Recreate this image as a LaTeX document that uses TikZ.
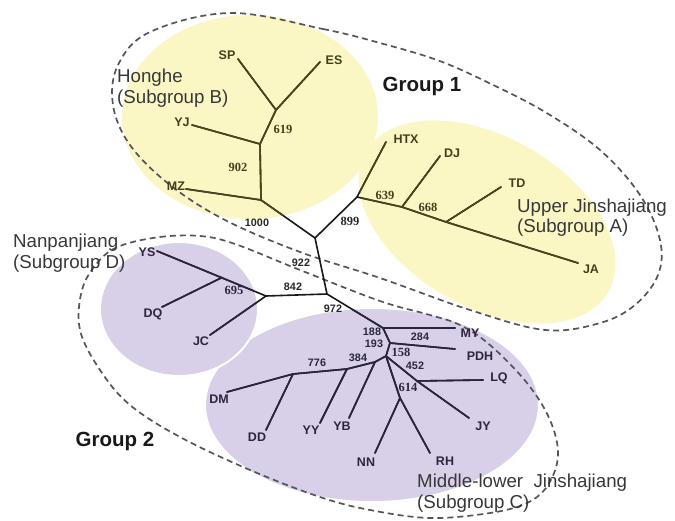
\documentclass[tikz,border=0pt]{standalone}
\usepackage{fontspec}
\setmainfont{Liberation Sans}
\newfontfamily\numserif{Liberation Serif}
\definecolor{ylw}{RGB}{251,247,196}
\definecolor{prp}{RGB}{216,207,232}
\definecolor{lineclr}{RGB}{25,25,25}
\definecolor{olivelc}{RGB}{72,70,28}
\definecolor{indigolc}{RGB}{42,36,62}
\definecolor{txtclr}{RGB}{40,40,40}
\definecolor{olivetx}{RGB}{66,64,30}
\definecolor{indigotx}{RGB}{44,38,66}
\definecolor{dashclr}{RGB}{85,85,92}
\newcommand\drawtree[1]{%
\draw[branch,#1] (c0) -- (b0) -- (b1) -- (b2) -- (eSP);
\draw[branch,#1] (b0) -- (eMZ);
\draw[branch,#1] (b1) -- (eYJ);
\draw[branch,#1] (b2) -- (eES);
\draw[branch,#1] (c0) -- (a0) -- (a1) -- (a2) -- (eJA);
\draw[branch,#1] (a0) -- (eHTX);
\draw[branch,#1] (a1) -- (eDJ);
\draw[branch,#1] (a2) -- (eTD);
\draw[branch,#1] (c0) -- (m0) -- (d0) -- (eYS);
\draw[branch,#1] (d1) -- (eDQ);
\draw[branch,#1] (d0) -- (eJC);
\draw[branch,#1] (m0) -- (g0) -- (eMY);
\draw[branch,#1] (g0) -- (g1) -- (ePDH);
\draw[branch,#1] (g1) -- (g2) -- (gYB) -- (gYY) -- (gDD) -- (eDM);
\draw[branch,#1] (gYB) -- (eYB);
\draw[branch,#1] (gYY) -- (eYY);
\draw[branch,#1] (gDD) -- (eDD);
\draw[branch,#1] (g2) -- (gNN) -- (eNN);
\draw[branch,#1] (gNN) -- (eRH);
\draw[branch,#1] (g2) -- (gLQ) -- (eJY);
\draw[branch,#1] (gLQ) -- (eLQ);}
\begin{document}
\begin{tikzpicture}[x=1pt,y=-1pt,
  branch/.style={line width=1.6pt, draw=lineclr, line cap=round, line join=round},
  leaf/.style={font=\fontsize{12.5}{13}\selectfont\bfseries, text=txtclr, inner sep=0pt},
  nsans/.style={font=\fontsize{10.8}{11}\selectfont\bfseries, text=txtclr, inner sep=0pt},
  nserif/.style={font=\numserif\fontsize{12.5}{12}\selectfont\bfseries, text=txtclr, inner sep=0pt},
  grouplbl/.style={font=\fontsize{20.5}{22}\selectfont\bfseries, text=black!90, inner sep=0pt},
  sublbl/.style={font=\fontsize{18.7}{20.5}\selectfont, align=left, text=black!78, inner sep=0pt, anchor=west},
  dashline/.style={draw=dashclr, line width=1.7pt, dash pattern=on 6pt off 4pt}]
\useasboundingbox (0,0) rectangle (675,521);
\fill[white] (0,0) rectangle (675,521);

% shaded subgroups
\fill[ylw] (250,117) ellipse [x radius=128pt, y radius=102pt];
\fill[ylw, rotate around={-30:(487,222)}] (487,222) ellipse [x radius=140pt, y radius=85pt];
\filldraw[prp, draw=white, line width=2pt] (372,405) ellipse [x radius=167pt, y radius=97pt];
\filldraw[prp, draw=white, line width=2pt] (179,309) ellipse [x radius=79pt, y radius=67pt];

% dashed groups
\draw[dashline] plot[smooth cycle, tension=0.6] coordinates {
 (230,13) (323,29) (380,43) (437,60) (487,82) (545,112) (600,150) (640,195)
 (660,240) (658,275) (635,305) (600,323) (545,330) (470,310) (380,278)
 (300,252) (225,220) (170,185) (130,145) (113,105) (118,65) (150,32)};
\draw[dashline] plot[smooth cycle, tension=0.6] coordinates {
 (120,246) (160,237) (200,236) (235,244) (300,270) (380,301)
 (430,315) (460,325) (490,345) (527,383) (550,420) (558,455) (548,485)
 (527,503) (490,513) (430,518) (370,510) (320,497) (250,470) (180,437)
 (130,405) (100,370) (80,330) (82,290) (98,262)};

% internal nodes
\coordinate (c0) at (315,238);
\coordinate (b0) at (261,200);
\coordinate (b1) at (260,144);
\coordinate (b2) at (276,110);
\coordinate (a0) at (357,197);
\coordinate (a1) at (402,207);
\coordinate (a2) at (446,222);
\coordinate (m0) at (327,294);
\coordinate (d0) at (266,296);
\coordinate (d1) at (222,277.5);
\coordinate (g0) at (383,328);
\coordinate (g1) at (390,343);
\coordinate (g2) at (386,356);
\coordinate (gYB) at (375,362);
\coordinate (gYY) at (347,369);
\coordinate (gDD) at (293,374);
\coordinate (gNN) at (400,398);
\coordinate (gLQ) at (417,381);
% leaf ends
\coordinate (eMZ) at (186,189);
\coordinate (eYJ) at (192,125);
\coordinate (eSP) at (238,59);
\coordinate (eES) at (320,62);
\coordinate (eHTX) at (386,142);
\coordinate (eDJ) at (440,156);
\coordinate (eTD) at (501,187);
\coordinate (eJA) at (578,263);
\coordinate (eYS) at (157,251);
\coordinate (eDQ) at (162,307);
\coordinate (eJC) at (210,335);
\coordinate (eMY) at (455,328);
\coordinate (ePDH) at (455,349);
\coordinate (eDM) at (227,392);
\coordinate (eDD) at (266,430);
\coordinate (eYY) at (320,423);
\coordinate (eYB) at (349,418);
\coordinate (eNN) at (375,453);
\coordinate (eRH) at (430,453);
\coordinate (eLQ) at (483,380);
\coordinate (eJY) at (469,418);

% branches (black on white, tinted inside shaded areas)
\drawtree{}
\begin{scope}
  \clip (250,117) ellipse [x radius=128pt, y radius=102pt];
  \drawtree{draw=olivelc}
\end{scope}
\begin{scope}
  \clip[rotate around={-30:(487,222)}] (487,222) ellipse [x radius=140pt, y radius=85pt];
  \drawtree{draw=olivelc}
\end{scope}
\begin{scope}
  \clip (372,405) ellipse [x radius=166pt, y radius=96pt];
  \drawtree{draw=indigolc}
\end{scope}
\begin{scope}
  \clip (179,309) ellipse [x radius=78pt, y radius=66pt];
  \drawtree{draw=indigolc}
\end{scope}

% leaf labels
\node[leaf, text=olivetx] (MZ) at (176,186) {MZ};
\node[leaf, text=olivetx] (YJ) at (182,122) {YJ};
\node[leaf, text=olivetx] (SP) at (227,55) {SP};
\node[leaf, text=olivetx] (ES) at (334,60) {ES};
\node[leaf, text=olivetx] (HTX) at (406,139) {HTX};
\node[leaf, text=olivetx] (DJ) at (452,153) {DJ};
\node[leaf, text=olivetx] (TD) at (517,183) {TD};
\node[leaf, text=olivetx] (JA) at (591,269) {JA};
\node[leaf, text=indigotx] (YS) at (147,252) {YS};
\node[leaf, text=indigotx] (DQ) at (153,314) {DQ};
\node[leaf, text=indigotx] (JC) at (201,341) {JC};
\node[leaf, text=indigotx] (MY) at (470,333) {MY};
\node[leaf, text=indigotx] (PDH) at (480,356) {PDH};
\node[leaf, text=indigotx] (DM) at (219,399) {DM};
\node[leaf, text=indigotx] (DD) at (257,437) {DD};
\node[leaf, text=indigotx] (YY) at (311,430) {YY};
\node[leaf, text=indigotx] (YB) at (342,426) {YB};
\node[leaf, text=indigotx] (NN) at (366,462) {NN};
\node[leaf, text=indigotx] (RH) at (445,461) {RH};
\node[leaf, text=indigotx] (LQ) at (499,378) {LQ};
\node[leaf, text=indigotx] (JY) at (483,426) {JY};

% bootstrap values
\node[nserif, text=olivetx] (n619) at (283,129) {619};
\node[nserif, text=olivetx] (n902) at (238,167) {902};
\node[nsans] (n1000) at (257,223) {1000};
\node[nserif] (n899) at (350,221) {899};
\node[nserif, text=olivetx] (n639) at (385,195) {639};
\node[nserif, text=olivetx] (n668) at (428,207) {668};
\node[nsans] (n922) at (301,263) {922};
\node[nsans] (n842) at (293,287) {842};
\node[nserif, text=indigotx] (n695) at (234,290) {695};
\node[nsans] (n972) at (333,309) {972};
\node[nsans, text=indigotx] (n188) at (372,332) {188};
\node[nsans, text=indigotx] (n193) at (374,344) {193};
\node[nsans, text=indigotx] (n284) at (420,337) {284};
\node[nserif, text=indigotx] (n158) at (401,352) {158};
\node[nsans, text=indigotx] (n452) at (415,366) {452};
\node[nserif, text=indigotx] (n614) at (408,387) {614};
\node[nsans, text=indigotx] (n776) at (317,363) {776};
\node[nsans, text=indigotx] (n384) at (358,358) {384};

% group and subgroup labels
\node[grouplbl] (g1lbl) at (422,86) {Group 1};
\node[grouplbl] (g2lbl) at (115,441) {Group 2};
\node[sublbl] (sB) at (117,88) {Honghe\\(Subgroup B)};
\node[sublbl] (sD) at (13,253) {Nanpanjiang\\(Subgroup D)};
\node[sublbl] (sA) at (517,217.5) {Upper Jinshajiang\\(Subgroup A)};
\node[sublbl] (sC) at (417,493) {Middle-lower\ \ Jinshajiang\\(Subgroup C)};
\end{tikzpicture}
\end{document}
